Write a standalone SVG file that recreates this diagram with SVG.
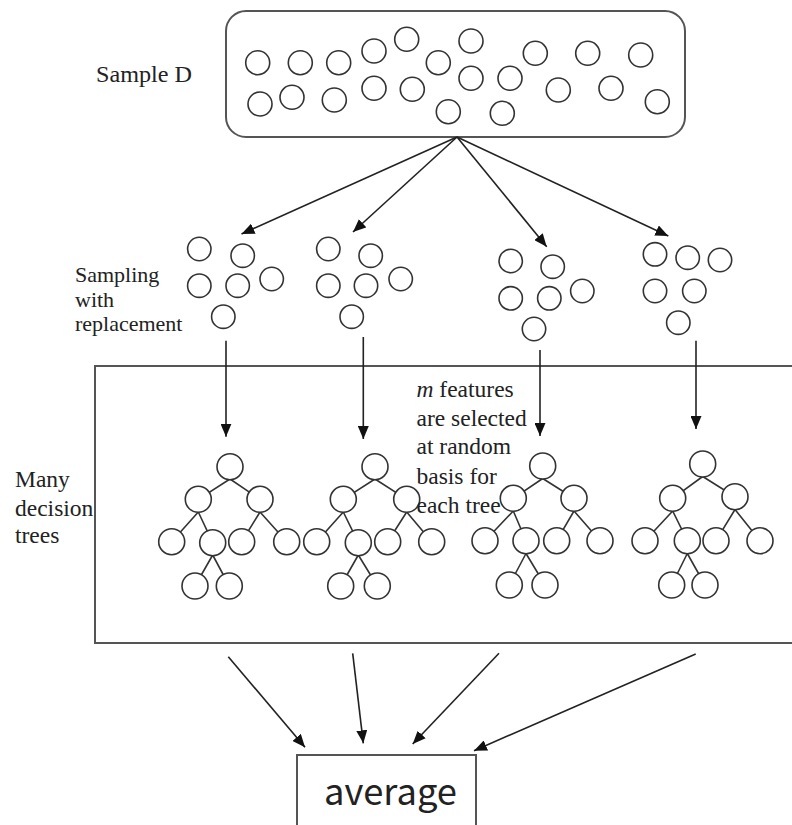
<svg xmlns="http://www.w3.org/2000/svg" width="792" height="825" viewBox="0 0 792 825">
<style>
.bg{fill:#fff}
.c{fill:#fff;stroke:#333;stroke-width:1.6}
.box{fill:none;stroke:#555;stroke-width:2}
.e{stroke:#333;stroke-width:1.6;fill:none}
.a{stroke:#222;stroke-width:1.6;fill:none;marker-end:url(#ah)}
.t{font-family:"Liberation Serif","Times New Roman",serif;fill:#222}
.avg{font-family:"Noto Sans CJK JP","Noto Sans",sans-serif;fill:#222}
</style>
<defs>
<marker id="ah" markerUnits="userSpaceOnUse" markerWidth="13" markerHeight="11" refX="13" refY="5.5" orient="auto">
<path d="M0,0 L13,5.5 L0,11 z" fill="#111"/>
</marker>
</defs>
<rect class="bg" x="0" y="0" width="792" height="825"/>

<g id="sample-d">
<rect class="box" x="226" y="11" width="459" height="126" rx="20" ry="20"/>
<circle class="c" cx="257.7" cy="62.7" r="12"/>
<circle class="c" cx="300.3" cy="62.7" r="12"/>
<circle class="c" cx="338.7" cy="62.7" r="12"/>
<circle class="c" cx="374" cy="51" r="12"/>
<circle class="c" cx="406.7" cy="39.3" r="12"/>
<circle class="c" cx="438.3" cy="62.7" r="12"/>
<circle class="c" cx="471" cy="41" r="12"/>
<circle class="c" cx="535.3" cy="53.3" r="12"/>
<circle class="c" cx="587.7" cy="53.3" r="12"/>
<circle class="c" cx="640.7" cy="55" r="12"/>
<circle class="c" cx="260" cy="104" r="12"/>
<circle class="c" cx="292" cy="97.3" r="12"/>
<circle class="c" cx="334.3" cy="100" r="12"/>
<circle class="c" cx="374" cy="88.3" r="12"/>
<circle class="c" cx="412.3" cy="89.3" r="12"/>
<circle class="c" cx="471" cy="78.3" r="12"/>
<circle class="c" cx="510" cy="78.3" r="12"/>
<circle class="c" cx="448.3" cy="111.7" r="12"/>
<circle class="c" cx="502.3" cy="113.3" r="12"/>
<circle class="c" cx="558.3" cy="90" r="12"/>
<circle class="c" cx="611" cy="88.3" r="12"/>
<circle class="c" cx="657.3" cy="101.7" r="12"/>
</g>
<g id="label-sample-d">
<text class="t" x="96" y="82" font-size="23" textLength="96" lengthAdjust="spacingAndGlyphs">Sample D</text>
</g>

<g id="sample-1">
<circle class="c" cx="199.3" cy="249" r="11.7"/>
<circle class="c" cx="242.7" cy="255.7" r="11.7"/>
<circle class="c" cx="199.3" cy="285.7" r="11.7"/>
<circle class="c" cx="237.7" cy="285.7" r="11.7"/>
<circle class="c" cx="271.7" cy="279" r="11.7"/>
<circle class="c" cx="223.3" cy="316.7" r="11.7"/>
</g>
<g id="sample-2">
<circle class="c" cx="328.3" cy="249" r="11.7"/>
<circle class="c" cx="370.7" cy="255.7" r="11.7"/>
<circle class="c" cx="328.3" cy="285.7" r="11.7"/>
<circle class="c" cx="366" cy="285.7" r="11.7"/>
<circle class="c" cx="400.7" cy="279" r="11.7"/>
<circle class="c" cx="351.7" cy="316.7" r="11.7"/>
</g>
<g id="sample-3">
<circle class="c" cx="510.7" cy="261" r="11.7"/>
<circle class="c" cx="552.7" cy="266.7" r="11.7"/>
<circle class="c" cx="510.7" cy="298.3" r="11.7"/>
<circle class="c" cx="549.3" cy="298.3" r="11.7"/>
<circle class="c" cx="582.3" cy="291" r="11.7"/>
<circle class="c" cx="534" cy="329" r="11.7"/>
</g>
<g id="sample-4">
<circle class="c" cx="655" cy="254.3" r="11.7"/>
<circle class="c" cx="687.7" cy="257.7" r="11.7"/>
<circle class="c" cx="720" cy="260" r="11.7"/>
<circle class="c" cx="655" cy="291" r="11.7"/>
<circle class="c" cx="694.3" cy="291" r="11.7"/>
<circle class="c" cx="678.3" cy="322.7" r="11.7"/>
</g>
<g id="label-sampling">
<text class="t" font-size="22"><tspan x="75" y="282">Sampling</tspan><tspan x="75" y="306.5">with</tspan><tspan x="75" y="331">replacement</tspan></text>
</g>

<g id="forest">
<rect class="box" x="95" y="366" width="720" height="277"/>
</g>
<g id="label-many">
<text class="t" font-size="23.5"><tspan x="15" y="487">Many</tspan><tspan x="15" y="515.5">decision</tspan><tspan x="15" y="543">trees</tspan></text>
</g>

<g id="tree-1">
<path class="e" d="M230,479 L198.3,499.3 M230,479 L260,499.3 M198.3,512 L171.7,541.7 M198.3,512 L212.7,542.7 M260,512 L241.7,541.7 M260,512 L286.7,541.7 M212.7,555 L195,586 M212.7,555 L229.3,586"/>
<circle class="c" cx="230" cy="466.7" r="13"/>
<circle class="c" cx="198.3" cy="499.3" r="13"/>
<circle class="c" cx="260" cy="499.3" r="13"/>
<circle class="c" cx="171.7" cy="541.7" r="13"/>
<circle class="c" cx="212.7" cy="542.7" r="13"/>
<circle class="c" cx="241.7" cy="541.7" r="13"/>
<circle class="c" cx="286.7" cy="541.7" r="13"/>
<circle class="c" cx="195" cy="586" r="13"/>
<circle class="c" cx="229.3" cy="586" r="13"/>
</g>
<g id="tree-2">
<path class="e" d="M375,479 L343.3,499.3 M375,479 L406.7,499.3 M343.3,512 L316.7,541.7 M343.3,512 L358.3,542.7 M406.7,512 L387.7,541.7 M406.7,512 L431.7,541.7 M358.3,555 L340.7,586 M358.3,555 L377.3,586"/>
<circle class="c" cx="375" cy="466.7" r="13"/>
<circle class="c" cx="343.3" cy="499.3" r="13"/>
<circle class="c" cx="406.7" cy="499.3" r="13"/>
<circle class="c" cx="316.7" cy="541.7" r="13"/>
<circle class="c" cx="358.3" cy="542.7" r="13"/>
<circle class="c" cx="387.7" cy="541.7" r="13"/>
<circle class="c" cx="431.7" cy="541.7" r="13"/>
<circle class="c" cx="340.7" cy="586" r="13"/>
<circle class="c" cx="377.3" cy="586" r="13"/>
</g>
<g id="tree-3">
<path class="e" d="M542.7,478.5 L513.3,498.3 M542.7,478.5 L574,498.3 M513.3,511 L485,540.7 M513.3,511 L526,540.7 M574,511 L556.7,540.7 M574,511 L600,540.7 M526,553.5 L509.3,585 M526,553.5 L545,585"/>
<circle class="c" cx="542.7" cy="466" r="13"/>
<circle class="c" cx="513.3" cy="498.3" r="13"/>
<circle class="c" cx="574" cy="498.3" r="13"/>
<circle class="c" cx="485" cy="540.7" r="13"/>
<circle class="c" cx="526" cy="540.7" r="13"/>
<circle class="c" cx="556.7" cy="540.7" r="13"/>
<circle class="c" cx="600" cy="540.7" r="13"/>
<circle class="c" cx="509.3" cy="585" r="13"/>
<circle class="c" cx="545" cy="585" r="13"/>
</g>
<g id="tree-4">
<path class="e" d="M702.7,476.5 L672.7,498.3 M702.7,476.5 L735,496.7 M672.7,511 L645,540.7 M672.7,511 L687.3,540.7 M735,509.5 L716,540.7 M735,509.5 L760,540.7 M687.3,553.5 L671.7,585 M687.3,553.5 L705,585"/>
<circle class="c" cx="702.7" cy="464" r="13"/>
<circle class="c" cx="672.7" cy="498.3" r="13"/>
<circle class="c" cx="735" cy="496.7" r="13"/>
<circle class="c" cx="645" cy="540.7" r="13"/>
<circle class="c" cx="687.3" cy="540.7" r="13"/>
<circle class="c" cx="716" cy="540.7" r="13"/>
<circle class="c" cx="760" cy="540.7" r="13"/>
<circle class="c" cx="671.7" cy="585" r="13"/>
<circle class="c" cx="705" cy="585" r="13"/>
</g>
<g id="label-features">
<text class="t" font-size="23.5"><tspan x="416.5" y="397"><tspan font-style="italic">m</tspan> features</tspan><tspan x="416.5" y="425.5">are selected</tspan><tspan x="416.5" y="454">at random</tspan><tspan x="416.5" y="483.5">basis for</tspan><tspan x="416.5" y="513">each tree</tspan></text>
</g>

<g id="average">
<rect class="box" x="297" y="755" width="179" height="80"/>
<text class="avg" x="324" y="805" font-size="36" textLength="133" lengthAdjust="spacingAndGlyphs">average</text>
</g>

<g id="connectors">
<line class="a" x1="457" y1="137" x2="241.5" y2="234"/>
<line class="a" x1="457" y1="137" x2="353" y2="232"/>
<line class="a" x1="457" y1="137" x2="546.7" y2="246.7"/>
<line class="a" x1="457" y1="137" x2="668.3" y2="236"/>
<line class="a" x1="226" y1="340.7" x2="226" y2="436.7"/>
<line class="a" x1="363.3" y1="337" x2="363.3" y2="439"/>
<line class="a" x1="540" y1="350" x2="540" y2="436"/>
<line class="a" x1="696" y1="340.7" x2="696" y2="429"/>
<line class="a" x1="228.3" y1="656.7" x2="305" y2="747.3"/>
<line class="a" x1="352.7" y1="653.3" x2="363.3" y2="743.3"/>
<line class="a" x1="499" y1="653.3" x2="412.7" y2="744"/>
<line class="a" x1="695.7" y1="654" x2="474" y2="750.7"/>
</g>
</svg>
